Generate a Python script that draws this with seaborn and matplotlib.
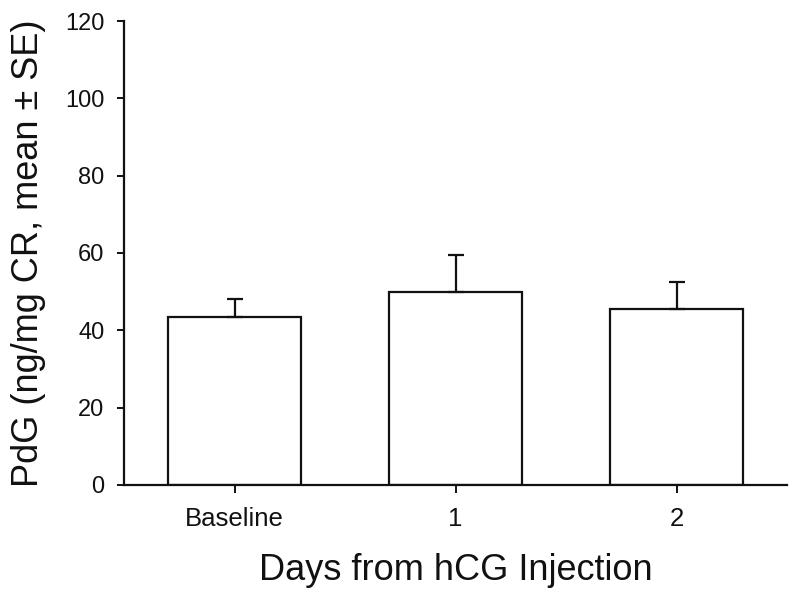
import matplotlib
matplotlib.use("Agg")
import matplotlib.pyplot as plt
import seaborn as sns
import pandas as pd

categories = ["Baseline", "1", "2"]
means = [43.4, 49.9, 45.6]
se = [4.6, 9.5, 6.8]

sns.set_theme(style="ticks")
plt.rcParams["font.family"] = ["Liberation Sans", "DejaVu Sans"]

df = pd.DataFrame({"day": categories, "pdg": means})

fig = plt.figure(figsize=(8, 6.03), dpi=100)
ax = fig.add_axes([0.155, 0.196, 0.829, 0.769])

sns.barplot(data=df, x="day", y="pdg", order=categories, color="white",
            edgecolor="#111111", linewidth=1.6, width=0.6, errorbar=None,
            saturation=1, ax=ax)
ax.errorbar(range(len(categories)), means, yerr=[[0] * len(se), se],
            fmt="none", ecolor="#111111", elinewidth=1.6, capsize=5.5,
            capthick=1.6, zorder=3)

ax.set_xlim(-0.5, 2.5)
ax.set_ylim(0, 120)
ax.set_yticks([0, 20, 40, 60, 80, 100, 120])
for s in ["top", "right"]:
    ax.spines[s].set_visible(False)
for s in ["left", "bottom"]:
    ax.spines[s].set_linewidth(1.6)
    ax.spines[s].set_color("#111111")
ax.tick_params(axis="y", direction="out", length=5, width=1.4, labelsize=17,
               pad=9, colors="#111111")
ax.tick_params(axis="x", direction="out", length=6, width=1.4, labelsize=18.5,
               pad=10, colors="#111111")
ax.set_xlabel("Days from hCG Injection", fontsize=26, labelpad=16, color="#111111")
ax.set_ylabel("PdG (ng/mg CR, mean ± SE)", fontsize=26, labelpad=14, color="#111111")

fig.savefig("out.png", dpi=100, facecolor="white")
